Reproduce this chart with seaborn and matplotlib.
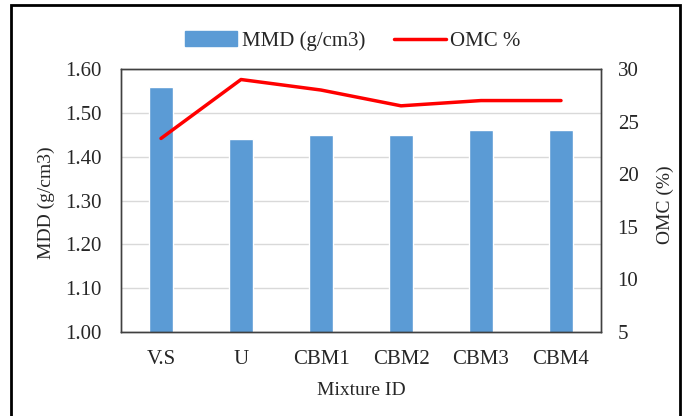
import numpy as np
import pandas as pd
import matplotlib
matplotlib.use('Agg')
import matplotlib.pyplot as plt
import seaborn as sns
from matplotlib.patches import Rectangle
from matplotlib.lines import Line2D

# Dados
mixtures = ['V.S', 'U', 'CBM1', 'CBM2', 'CBM3', 'CBM4']
mmd = [1.56, 1.44, 1.45, 1.45, 1.46, 1.46]
omc = [23.4, 29.0, 28.0, 26.5, 27.0, 27.0]

sns.set_theme(style="white")
plt.rcParams['font.family'] = ['Liberation Serif', 'DejaVu Serif']

df = pd.DataFrame({'Mixture': mixtures, 'MMD': mmd, 'OMC': omc})

fs = 15
txt = '#262626'

fig = plt.figure(figsize=(6.86, 4.16), dpi=100)
ax = fig.add_axes([121 / 686, 1 - 332 / 416, 480 / 686, 263 / 416])

sns.barplot(data=df, x='Mixture', y='MMD', color='#5B9BD5', saturation=1,
            width=0.3, ax=ax, zorder=2)
ax.set_ylim(1.0, 1.6)
ax.set_yticks(np.arange(1.0, 1.61, 0.1))
ax.set_yticklabels([f'{v:.2f}' for v in np.arange(1.0, 1.61, 0.1)])
ax.yaxis.grid(True, color='#d9d9d9', linewidth=1, zorder=0)
ax.set_axisbelow(True)
ax.set_xlabel('Mixture ID', fontsize=14, color=txt, labelpad=9)
ax.set_ylabel('MDD (g/cm3)', fontsize=14, color=txt)
ax.yaxis.set_label_coords(-0.1375, 0.49)
ax.tick_params(axis='y', labelsize=fs, colors=txt, length=0, pad=14)
ax.tick_params(axis='x', labelsize=fs, colors=txt, length=0, pad=13)

ax2 = ax.twinx()
sns.lineplot(x=np.arange(len(mixtures)), y=df['OMC'], color='#FF0000',
             linewidth=2.5, ax=ax2)
ax2.set_ylim(5, 30)
ax2.set_yticks(range(5, 31, 5))
ax2.set_ylabel('OMC (%)', fontsize=14, color=txt)
ax2.yaxis.set_label_coords(1.1167, 0.485)
ax2.tick_params(axis='y', labelsize=fs, colors=txt, length=0, pad=12)
ax.set_xlim(-0.5, len(mixtures) - 0.5)

for a in (ax, ax2):
    for s in a.spines.values():
        s.set_color('#404040')
        s.set_linewidth(1)

handles = [Rectangle((0, 0), 1, 1, color='#5B9BD5'),
           Line2D([0], [0], color='#FF0000', linewidth=2.5)]
fig.legend(handles, ['MMD (g/cm3)', 'OMC %'], loc='center',
           bbox_to_anchor=(353 / 686, 1 - 41 / 416), ncol=2, frameon=False,
           fontsize=fs, handlelength=2.5, columnspacing=1.4, handletextpad=0.2)

# Moldura externa
fig.patches.append(Rectangle((11 / 686, -0.01), 669 / 686, 1 - 5 / 416 + 0.01,
                             transform=fig.transFigure, fill=False,
                             edgecolor='black', linewidth=2))

fig.savefig('out.png', dpi=100)
